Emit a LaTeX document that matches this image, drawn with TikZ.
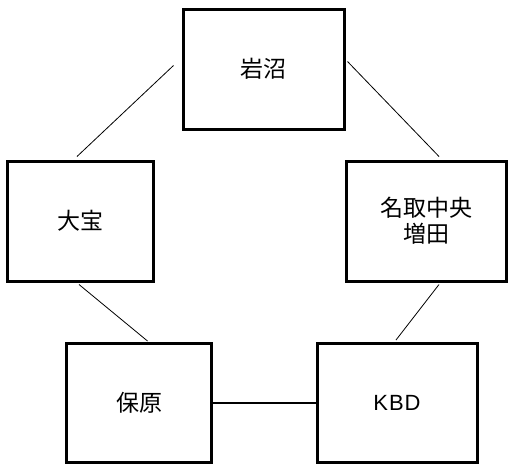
\documentclass[tikz,border=0pt]{standalone}
\usepackage{fontspec}
\newfontfamily\jpfont{Noto Sans CJK JP}
\newfontfamily\latinfont{Liberation Sans}
\begin{document}
\begin{tikzpicture}[x=1pt,y=-1pt,
  station/.style={draw, line width=3pt, minimum height=120pt, inner sep=0pt, align=center, font=\jpfont\fontsize{23}{26}\selectfont},
  link/.style={line width=0.8pt},
  mainlink/.style={line width=2.6pt}]
\useasboundingbox (0,0) rectangle (508,464);
% Stations
\node[station, minimum width=161pt] (iwanuma) at (263.5,69) {岩沼};
\node[station, minimum width=146pt] (taiho) at (80,221) {大宝};
\node[station, minimum width=160pt] (natori) at (426,221) {名取中央\\増田};
\node[station, minimum width=145pt, minimum height=119pt] (hobara) at (139,403) {保原};
\node[station, minimum width=160pt, minimum height=119pt, font=\latinfont\fontsize{22}{26}\selectfont] (kbd) at (397,403) {K\kern1pt B\kern1pt D};
% Links
\draw[link] ([shift={(-8,-3.5)}]iwanuma.west) -- ([shift={(-3,-3)}]taiho.north);
\draw[link] ([shift={(2,-7.5)}]iwanuma.east) -- ([shift={(13,-3)}]natori.north);
\draw[link] ([shift={(-1,2)}]taiho.south) -- ([shift={(8.5,-1)}]hobara.north);
\draw[link] ([shift={(13,2)}]natori.south) -- ([shift={(-1,-2)}]kbd.north);
\draw[mainlink] (hobara.east) -- (kbd.west);
\end{tikzpicture}
\end{document}
